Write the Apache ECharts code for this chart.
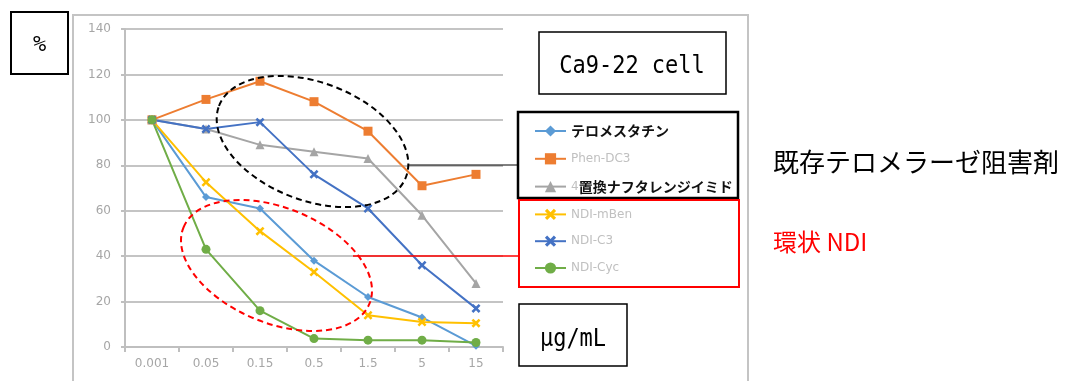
<!DOCTYPE html>
<html><head><meta charset="utf-8">
<script src="https://cdn.jsdelivr.net/npm/echarts@6/dist/echarts.min.js"></script>
<style>html,body{margin:0;padding:0;background:#fff}#c{width:1068px;height:381px}</style>
</head><body><div id="c"></div>
<script>
const categories = ['0.001','0.05','0.15','0.5','1.5','5','15'];
const seriesNames = ['テロメスタチン','Phen-DC3','4置換ナフタレンジイミド','NDI-mBen','NDI-C3','NDI-Cyc'];
const telomestatin = [100, 66, 61, 38, 22, 13, 0.5];
const phenDC3      = [100, 109, 117, 108, 95, 71, 76];
const ndi4sub      = [100, 96, 89, 86, 83, 58, 28];
const ndiMBen      = [100, 72.5, 51, 33, 14, 11, 10.5];
const ndiC3        = [100, 96, 99, 76, 61, 36, 17];
const ndiCyc       = [100, 43, 16, 3.7, 3, 3, 2];
const yTicks = {min: 0, max: 140, interval: 20};

const colors = ['#5b9bd5','#ed7d31','#a5a5a5','#ffc000','#4472c4','#70ad47'];
const xPath = 'path://M2,0 L5,3 L8,0 L10,2 L7,5 L10,8 L8,10 L5,7 L2,10 L0,8 L3,5 L0,2 Z';
const symbols = ['diamond','rect','triangle',xPath,xPath,'circle'];
const sizes = [8,9,9,9,9,9];
const values = [telomestatin, phenDC3, ndi4sub, ndiMBen, ndiC3, ndiCyc];

const chart = echarts.init(document.getElementById('c'));
const jp = '"Noto Sans CJK JP", sans-serif';
const mono = '"DejaVu Sans Mono", monospace';
const axisFont = '"DejaVu Sans", sans-serif';

function box(x, y, w, h, color, lw) {
  return {type:'rect', shape:{x:x, y:y, width:w, height:h}, style:{fill:'#fff', stroke:color, lineWidth:lw}, z:1};
}

chart.setOption({
  animation: false,
  color: colors,
  grid: {left:125, right:565, top:29, bottom:34, containLabel:false},
  xAxis: {
    type:'category', data:categories, boundaryGap:true,
    axisLine:{lineStyle:{color:'#bfbfbf', width:2}},
    axisTick:{show:true, length:5, lineStyle:{color:'#bfbfbf', width:2}},
    axisLabel:{color:'#a6a6a6', fontSize:12, fontFamily:axisFont, margin:11}
  },
  yAxis: {
    type:'value', min:yTicks.min, max:yTicks.max, interval:yTicks.interval,
    axisLine:{show:true, lineStyle:{color:'#bfbfbf', width:2}},
    axisTick:{show:true, length:4, lineStyle:{color:'#bfbfbf', width:2}},
    splitLine:{lineStyle:{color:'#c4c4c4', width:2}},
    axisLabel:{color:'#a6a6a6', fontSize:12, fontFamily:axisFont, margin:14}
  },
  legend: {
    orient:'vertical', left:529, top:119, itemWidth:31, itemHeight:14, itemGap:14.8,
    data: seriesNames,
    textStyle:{fontSize:12, color:'#c0c0c0', fontFamily:axisFont,
      rich:{
        b:{fontSize:14, fontWeight:'bold', color:'#111', fontFamily:jp},
        g:{fontSize:12, color:'#c0c0c0', fontFamily:axisFont}
      }},
    formatter: function(n){
      if (n === 'テロメスタチン') return '{b|' + n + '}';
      if (n === '4置換ナフタレンジイミド') return '{g|4}{b|置換ナフタレンジイミド}';
      return n;
    }
  },
  series: seriesNames.map((n,i) => ({
    name:n, type:'line', data:values[i],
    symbol:symbols[i], symbolSize:sizes[i],
    lineStyle:{width:2, color:colors[i]},
    itemStyle:{color:colors[i]},
    z: 3
  })),
  graphic: [
    {type:'rect', shape:{x:73, y:15, width:675, height:420}, style:{fill:'none', stroke:'#c4c4c4', lineWidth:2}, z:0, silent:true},
    box(11, 12, 57, 62, '#000', 2),
    {type:'text', x:39.5, y:45, style:{text:'%', font:'22px ' + mono, fill:'#000', textAlign:'center', textVerticalAlign:'middle'}, z:2},
    box(539, 32, 187, 62, '#000', 1.5),
    {type:'text', x:632, y:66, scaleY:1.15, style:{text:'Ca9-22 cell', font:'22px ' + mono, fill:'#000', textAlign:'center', textVerticalAlign:'middle'}, z:2},
    box(519, 304, 108, 62, '#000', 1.5),
    {type:'text', x:573, y:340, scaleY:1.1, style:{text:'μg/mL', font:'22px ' + mono, fill:'#000', textAlign:'center', textVerticalAlign:'middle'}, z:2},
    {type:'rect', shape:{x:518, y:112, width:220, height:86}, style:{fill:'none', stroke:'#000', lineWidth:2.5}, z:5},
    {type:'rect', shape:{x:519, y:200, width:220, height:87}, style:{fill:'none', stroke:'#ff0000', lineWidth:2}, z:5},
    {type:'line', shape:{x1:408, y1:165, x2:518, y2:165}, style:{stroke:'#000', lineWidth:1}, z:5},
    {type:'line', shape:{x1:353, y1:256, x2:519, y2:256}, style:{stroke:'#ff0000', lineWidth:1.5}, z:5},
    {type:'ellipse', x:312.5, y:141.5, rotation:-0.363, shape:{cx:0, cy:0, rx:100, ry:59}, style:{fill:'none', stroke:'#000', lineWidth:2, lineDash:[6,4]}, z:5},
    {type:'ellipse', x:276.5, y:265.5, rotation:-0.39, shape:{cx:0, cy:0, rx:100.5, ry:57.5}, style:{fill:'none', stroke:'#ff0000', lineWidth:2, lineDash:[6,4]}, z:5},
    {type:'text', x:773, y:162, style:{text:'既存テロメラーゼ阻害剤', font:'26px ' + jp, fill:'#000', textVerticalAlign:'middle'}, z:2},
    {type:'text', x:773, y:242, style:{text:'環状 NDI', font:'24px ' + jp, fill:'#ff0000', textVerticalAlign:'middle'}, z:2}
  ]
});
</script></body></html>
